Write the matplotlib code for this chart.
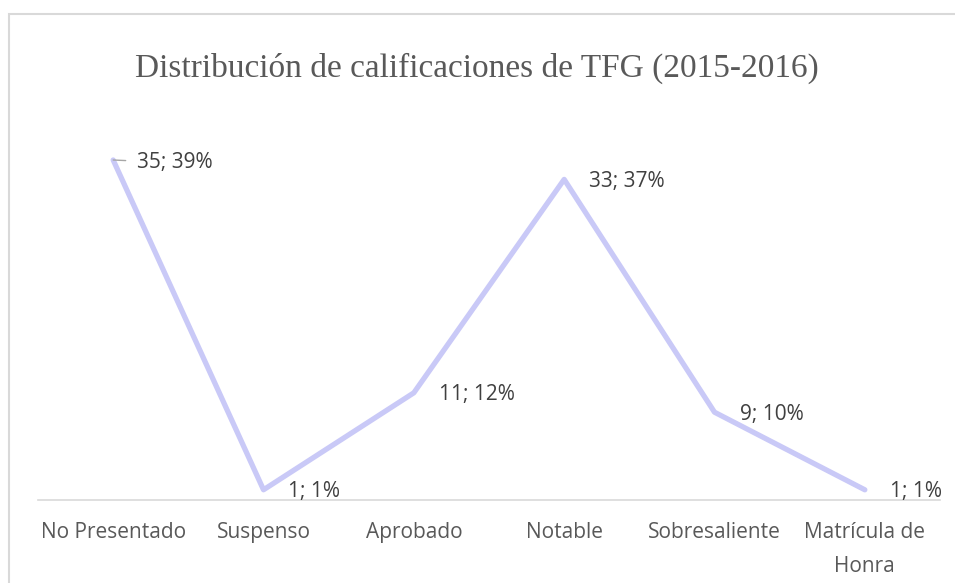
import matplotlib
matplotlib.use("Agg")
import matplotlib.pyplot as plt
from matplotlib.patches import Rectangle

categories = ["No Presentado", "Suspenso", "Aprobado", "Notable", "Sobresaliente", "Matrícula de\nHonra"]
counts = [35, 1, 11, 33, 9, 1]
percents = [39, 1, 12, 37, 10, 1]
title = "Distribución de calificaciones de TFG (2015-2016)"

W, H = 955, 583
fig = plt.figure(figsize=(W / 100, H / 100), dpi=100)

# outer chart border (cut off on the right/bottom as in reference)
fig.patches.append(Rectangle((9 / W, -0.1), 1.2, 1 - 14 / H + 0.1, transform=fig.transFigure,
                             fill=False, edgecolor="#d9d9d9", linewidth=1.5))

ax = fig.add_axes([38 / W, 1 - 499.5 / H, (940 - 38) / W, (499.5 - 111.5) / H])
x = list(range(len(categories)))
ax.plot(x, counts, color="#c9c9f7", linewidth=3.8, solid_joinstyle="round", solid_capstyle="round")
ax.set_xlim(-0.5, len(categories) - 0.5)
ax.set_ylim(0, 40)
ax.set_xticks(x)
ax.set_xticklabels(categories, fontsize=15, color="#595959", family="Open Sans", linespacing=1.85)
ax.tick_params(axis="x", length=0, pad=16)
ax.set_yticks([])
for s in ["top", "right", "left"]:
    ax.spines[s].set_visible(False)
ax.spines["bottom"].set_color("#d9d9d9")
ax.spines["bottom"].set_linewidth(1.2)

for i, (c, p) in enumerate(zip(counts, percents)):
    if i == 0:
        ax.annotate(f"{c}; {p}%", xy=(i, c), xytext=(17, -2), textcoords="offset points",
                    ha="left", va="center", fontsize=15, color="#404040", family="Open Sans",
                    arrowprops=dict(arrowstyle="-", color="#a6a6a6", lw=1, shrinkA=6, shrinkB=0))
    else:
        ax.annotate(f"{c}; {p}%", xy=(i, c), xytext=(18, -1.5), textcoords="offset points",
                    ha="left", va="center", fontsize=15, color="#404040", family="Open Sans")

fig.text(477 / W, 1 - 68 / H, title, ha="center", va="center", fontsize=24,
         family="Liberation Serif", color="#595959")

fig.savefig("out.png", dpi=100)
